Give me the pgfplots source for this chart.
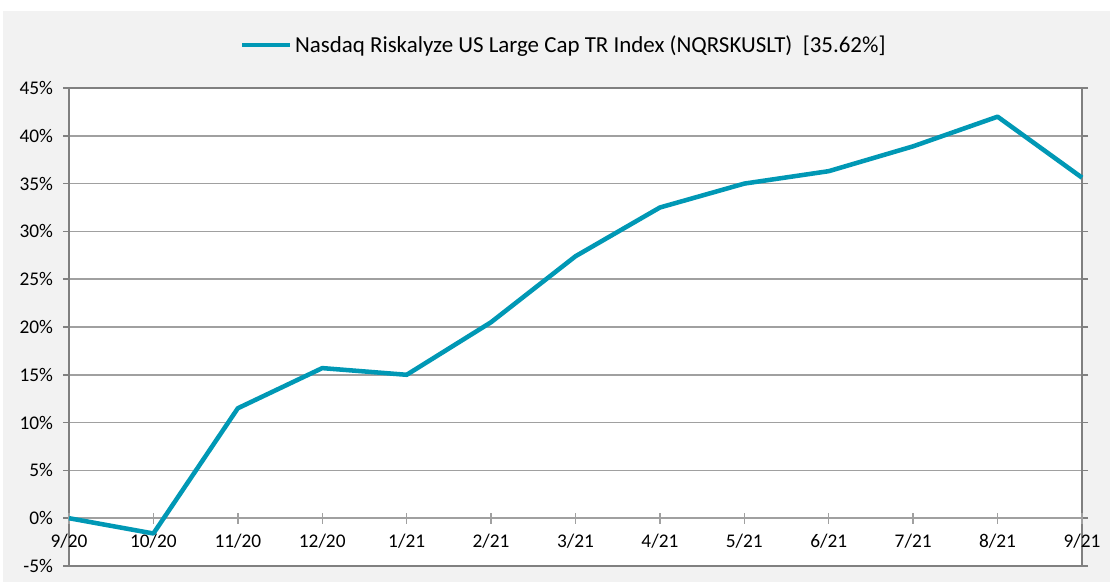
\documentclass[border=0pt]{standalone}
\usepackage{pgfplots}
\pgfplotsset{compat=1.18}
\usepackage{fontspec}
\setmainfont{Carlito}
\definecolor{bgc}{HTML}{F2F2F2}
\definecolor{gridc}{HTML}{A0A0A0}
\definecolor{axc}{HTML}{808080}
\definecolor{linec}{RGB}{0,152,181}
\begin{document}
\begin{tikzpicture}
\path (0pt,0pt) rectangle (832.5pt,436.5pt);
\fill[bgc] (2.25pt,0pt) rectangle (832.5pt,428.25pt);
% box + grid
\begin{axis}[
  at={(51.75pt,12pt)}, anchor=south west, scale only axis,
  width=759.75pt, height=358.5pt,
  xmin=0, xmax=12, ymin=-5, ymax=45,
  axis background/.style={fill=white},
  xtick=\empty,
  ytick={-5,0,...,45},
  yticklabel={\pgfmathprintnumber{\tick}\%},
  /pgf/number format/assume math mode=true,
  ymajorgrids, grid style={color=gridc, line width=1.1pt},
  axis line style={color=axc, line width=1.4pt},
  ytick style={color=axc, line width=1.1pt},
  tick align=outside, major tick length=4.5pt,
  tick label style={font=\fontsize{14.5}{16}\selectfont, text=black},
  yticklabel style={xshift=-4pt},
]
\end{axis}
% x axis at zero
\begin{axis}[
  at={(51.75pt,12pt)}, anchor=south west, scale only axis,
  width=759.75pt, height=358.5pt,
  xmin=0, xmax=12, ymin=-5, ymax=45,
  axis x line=middle, axis y line=none,
  x axis line style={-, color=gridc, line width=1.1pt},
  xtick={0,...,12},
  xticklabels={9/20,10/20,11/20,12/20,1/21,2/21,3/21,4/21,5/21,6/21,7/21,8/21,9/21},
  xtick style={color=gridc, line width=1.1pt},
  tick align=center, major tick length=8.25pt,
  tick label style={font=\fontsize{14.5}{16}\selectfont, text=black},
  xticklabel style={yshift=-4pt},
]
\end{axis}
% data
\begin{axis}[
  at={(51.75pt,12pt)}, anchor=south west, scale only axis,
  width=759.75pt, height=358.5pt,
  xmin=0, xmax=12, ymin=-5, ymax=45,
  axis lines=none, ticks=none, clip=false,
  legend style={at={(0.4887,1.090)}, anchor=center, draw=none, fill=none,
    font=\fontsize{17.2}{19}\selectfont, inner sep=0pt},
  legend image code/.code={\draw[#1] (0pt,0pt) -- (36pt,0pt);},
]
\addplot[color=linec, line width=3.4pt, line join=round] coordinates {
(0,0) (1,-1.6) (2,11.5) (3,15.7) (4,15.0) (5,20.5) (6,27.4)
(7,32.5) (8,35.0) (9,36.3) (10,38.9) (11,42.0) (12,35.62)};
\addlegendentry{Nasdaq Riskalyze US Large Cap TR Index (NQRSKUSLT)\ \ [35.62\%]}
\end{axis}
\end{tikzpicture}
\end{document}
